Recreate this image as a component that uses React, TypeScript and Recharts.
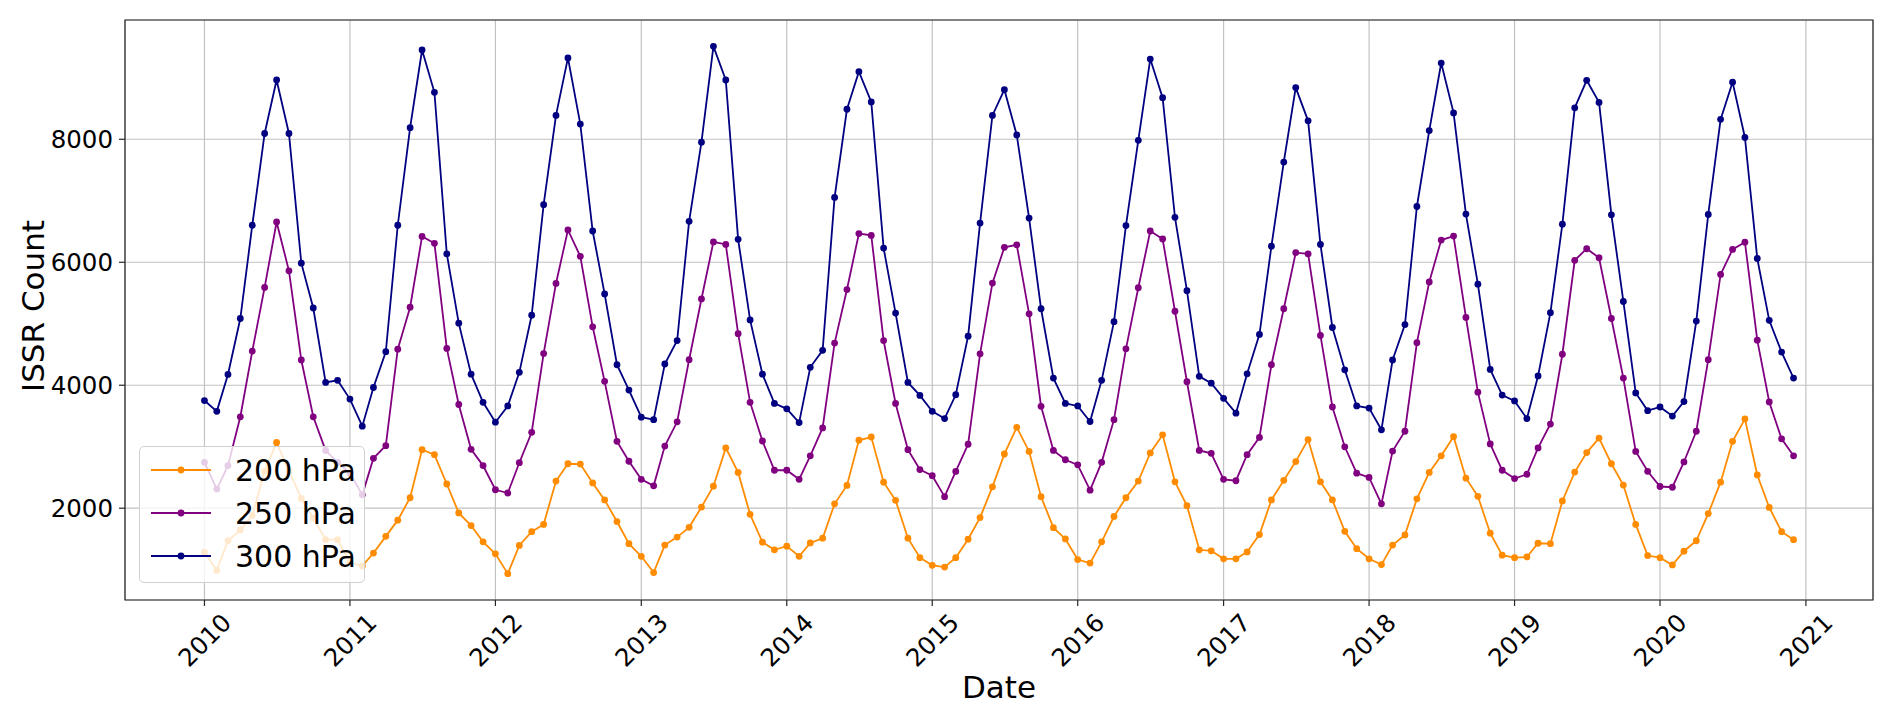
import { LineChart, Line, XAxis, YAxis, CartesianGrid, ReferenceArea } from 'recharts';

// monthly ISSR counts, Jan 2010 .. Dec 2020 (one row per year)
const hpa200 = [
  1283, 989, 1471, 1647, 1882, 2600, 3070, 2605, 2159, 1841, 1489, 1489,
  1118, 1060, 1271, 1542, 1806, 2170, 2952, 2870, 2394, 1924, 1718, 1453,
  1259, 936, 1395, 1618, 1736, 2441, 2723, 2717, 2411, 2135, 1783, 1424,
  1218, 954, 1401, 1530, 1689, 2018, 2358, 2981, 2582, 1900, 1448, 1324,
  1383, 1218, 1436, 1512, 2071, 2370, 3105, 3158, 2423, 2129, 1512, 1195,
  1071, 1042, 1195, 1495, 1847, 2347, 2882, 3316, 2923, 2188, 1683, 1500,
  1165, 1107, 1453, 1865, 2170, 2441, 2899, 3193, 2429, 2041, 1324, 1307,
  1177, 1177, 1289, 1571, 2135, 2453, 2758, 3117, 2429, 2135, 1624, 1342,
  1177, 1083, 1401, 1565, 2153, 2582, 2852, 3164, 2488, 2194, 1594, 1236,
  1195, 1207, 1430, 1424, 2118, 2588, 2905, 3140, 2723, 2376, 1736, 1230,
  1195, 1077, 1301, 1471, 1912, 2423, 3087, 3452, 2541, 2012, 1618, 1489,
];

const hpa250 = [
  2746, 2311, 2693, 3487, 4556, 5591, 6655, 5861, 4410, 3487, 2940, 2746,
  2570, 2217, 2811, 3017, 4586, 5268, 6420, 6308, 4598, 3687, 2958, 2693,
  2300, 2247, 2740, 3234, 4515, 5655, 6525, 6096, 4950, 4063, 3087, 2764,
  2470, 2364, 3011, 3405, 4415, 5403, 6331, 6290, 4839, 3722, 3093, 2617,
  2617, 2470, 2852, 3305, 4686, 5556, 6467, 6437, 4727, 3704, 2952, 2629,
  2529, 2188, 2599, 3040, 4510, 5661, 6243, 6284, 5162, 3657, 2940, 2788,
  2705, 2294, 2746, 3440, 4592, 5585, 6508, 6378, 5203, 4057, 2940, 2893,
  2470, 2447, 2870, 3152, 4333, 5244, 6155, 6137, 4809, 3646, 2999, 2570,
  2500, 2071, 2929, 3252, 4692, 5679, 6361, 6425, 5103, 3887, 3046, 2617,
  2482, 2552, 2981, 3369, 4504, 6032, 6220, 6073, 5085, 4116, 2923, 2600,
  2353, 2341, 2752, 3252, 4415, 5802, 6208, 6326, 4733, 3728, 3128, 2852,
];

const hpa300 = [
  3751, 3575, 4175, 5085, 6602, 8094, 8964, 8094, 5985, 5256, 4045, 4080,
  3775, 3334, 3963, 4545, 6602, 8188, 9452, 8764, 6137, 5009, 4180, 3722,
  3399, 3663, 4210, 5138, 6937, 8388, 9323, 8247, 6508, 5485, 4333, 3922,
  3481, 3440, 4345, 4727, 6666, 7953, 9511, 8964, 6373, 5062, 4180, 3704,
  3616, 3393, 4292, 4568, 7054, 8488, 9099, 8606, 6231, 5174, 4045, 3834,
  3575, 3458, 3845, 4798, 6637, 8388, 8806, 8071, 6719, 5244, 4116, 3704,
  3663, 3410, 4080, 5033, 6596, 7983, 9305, 8676, 6731, 5538, 4145, 4033,
  3787, 3546, 4186, 4827, 6261, 7630, 8841, 8300, 6290, 4939, 4251, 3663,
  3628, 3275, 4410, 4986, 6907, 8141, 9240, 8429, 6784, 5644, 4257, 3840,
  3745, 3458, 4151, 5180, 6619, 8512, 8958, 8600, 6772, 5362, 3875, 3587,
  3646, 3499, 3734, 5044, 6778, 8324, 8929, 8030, 6061, 5056, 4539, 4116,
];

const START_YEAR = 2010;
const yearTicks = [2010, 2011, 2012, 2013, 2014, 2015, 2016, 2017, 2018, 2019, 2020, 2021];
const countTicks = [2000, 4000, 6000, 8000];

const series = [
  { key: 'p200', name: '200 hPa', color: '#ff8c00' },
  { key: 'p250', name: '250 hPa', color: '#800080' },
  { key: 'p300', name: '300 hPa', color: '#000080' },
];

const data = hpa200.map((v, i) => ({
  t: Date.UTC(START_YEAR + Math.floor(i / 12), i % 12, 1),
  p200: v,
  p250: hpa250[i],
  p300: hpa300[i],
}));

// matplotlib-style 5% margins
const t0 = data[0].t;
const t1 = data[data.length - 1].t;
const xPad = (t1 - t0) * 0.05;
const xMin = t0 - xPad;
const xMax = t1 + xPad;
const allVals = [...hpa200, ...hpa250, ...hpa300];
const vMin = Math.min(...allVals);
const vMax = Math.max(...allVals);
const yPad = (vMax - vMin) * 0.05;
const yMin = vMin - yPad;
const yMax = vMax + yPad;

const FONT = '"DejaVu Sans", sans-serif';
const TICK_FS = 24.5;
const LABEL_FS = 31;
const LEGEND_FS = 30;

const XTick = ({ x, y, payload }: any) => {
  const cy = y + 32;
  return (
    <text x={x} y={cy} dy={TICK_FS * 0.3645} textAnchor="middle" transform={`rotate(-45, ${x}, ${cy})`}
      fontSize={TICK_FS} fontFamily={FONT} fill="#000">
      {new Date(payload.value).getUTCFullYear()}
    </text>
  );
};

const YTick = ({ x, y, payload }: any) => (
  <text x={x} y={y} dy={TICK_FS * 0.3645} textAnchor="end" fontSize={TICK_FS} fontFamily={FONT} fill="#000">
    {payload.value}
  </text>
);

function LegendBox() {
  return (
    <div style={{
      position: 'absolute', left: 139, top: 446, width: 226, height: 137,
      background: 'rgba(255,255,255,0.8)', border: '1px solid #d0d0d0', borderRadius: 5,
      boxSizing: 'border-box',
    }}>
      <svg width={226} height={137} style={{ position: 'absolute', left: -1, top: -1 }}>
        {series.map((s, i) => {
          const cy = 24 + i * 43;
          return (
            <g key={s.key}>
              <line x1={12} x2={72} y1={cy} y2={cy} stroke={s.color} strokeWidth={1.8} />
              <circle cx={42} cy={cy} r={3.4} fill={s.color} />
              <text x={96} y={cy} dy={LEGEND_FS * 0.3645} fontSize={LEGEND_FS} fontFamily={FONT} fill="#000">{s.name}</text>
            </g>
          );
        })}
      </svg>
    </div>
  );
}

export default function App() {
  return (
    <div style={{ position: 'absolute', left: 0, top: 0, width: 1892, height: 716, background: '#fff' }}>
      <LineChart width={1892} height={716} data={data} margin={{ top: 20, right: 19, bottom: 0, left: 0 }}>
        <CartesianGrid stroke="#c2c2c2" strokeWidth={1.2} />
        <XAxis dataKey="t" type="number" domain={[xMin, xMax]} ticks={yearTicks.map(y => Date.UTC(y, 0, 1))}
          height={116} axisLine={false} tickLine={{ stroke: '#262626', strokeWidth: 1.2 }} tickSize={6} tickMargin={2}
          tick={<XTick />} interval={0} />
        <YAxis type="number" domain={[yMin, yMax]} ticks={countTicks} width={125}
          axisLine={false} tickLine={{ stroke: '#262626', strokeWidth: 1.2 }} tickSize={6} tickMargin={6}
          tick={<YTick />} interval={0} />
        <ReferenceArea x1={xMin} x2={xMax} y1={yMin} y2={yMax} fill="none" fillOpacity={0}
          stroke="#262626" strokeWidth={1.2} strokeOpacity={1} />
        {series.map(s => (
          <Line key={s.key} type="linear" dataKey={s.key} name={s.name} stroke={s.color} strokeWidth={1.8}
            dot={{ r: 3.4, fill: s.color, stroke: s.color, strokeWidth: 0 }} activeDot={false}
            isAnimationActive={false} />
        ))}
        <text x={999} y={698} textAnchor="middle" fontSize={LABEL_FS} fontFamily={FONT} fill="#000">Date</text>
        <text x={44} y={306} textAnchor="middle" transform="rotate(-90, 44, 306)" fontSize={LABEL_FS}
          fontFamily={FONT} fill="#000">ISSR Count</text>
      </LineChart>
      <LegendBox />
    </div>
  );
}
